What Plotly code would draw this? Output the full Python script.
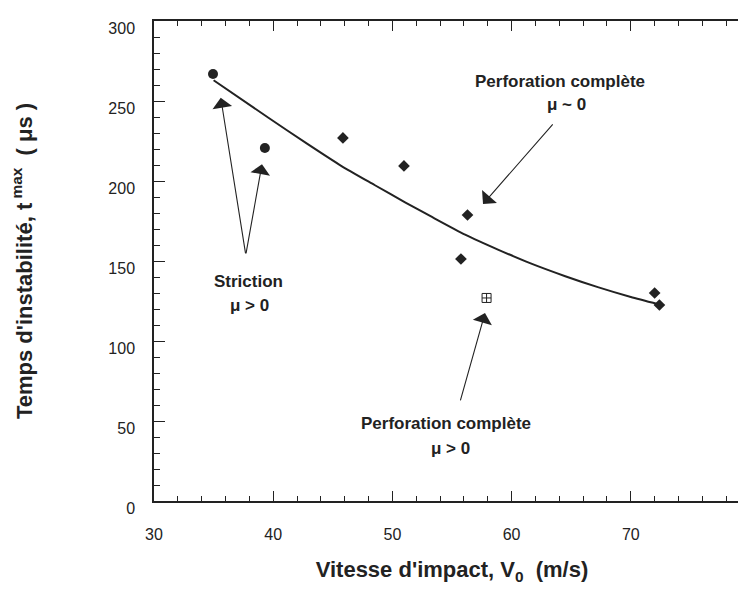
import plotly.graph_objects as go

# Data
striction_x = [34.95, 39.3]
striction_y = [266.9, 220.6]

perfo0_x = [45.85, 50.97, 56.3, 55.75, 72.0, 72.4]
perfo0_y = [226.9, 209.4, 178.75, 151.25, 130.0, 122.5]

perfo_pos_x = [57.9]
perfo_pos_y = [126.9]

curve_x = [35.0, 39.6, 42.9, 45.7, 48.5, 51.1, 53.2, 56.1, 58.9, 61.6, 64.5, 67.3, 70.0, 72.3]
curve_y = [263, 239.5, 223, 209.5, 197.5, 186.5, 178, 166.5, 157, 148.5, 140.5, 133.5, 127.5, 123]

x_ticks = [30, 40, 50, 60, 70, 80]
y_ticks = [0, 50, 100, 150, 200, 250, 300]

FONT = "Liberation Sans"
INK = "#222"

fig = go.Figure()
fig.add_trace(go.Scatter(x=curve_x, y=curve_y, mode="lines",
                         line=dict(color=INK, width=2, shape="spline", smoothing=0.6),
                         showlegend=False, hoverinfo="skip"))
fig.add_trace(go.Scatter(x=striction_x, y=striction_y, mode="markers",
                         marker=dict(symbol="circle", size=10, color=INK),
                         showlegend=False))
fig.add_trace(go.Scatter(x=perfo0_x, y=perfo0_y, mode="markers",
                         marker=dict(symbol="diamond", size=9, color=INK),
                         showlegend=False))
fig.add_trace(go.Scatter(x=perfo_pos_x, y=perfo_pos_y, mode="markers",
                         marker=dict(symbol="square-cross-open", size=9, color=INK,
                                     line=dict(width=1, color=INK)),
                         showlegend=False))

# Arrows (tip, tail) in data coordinates
arrows = [
    ((35.6, 252.0), (37.7, 153.8)),
    ((39.06, 210.5), (37.7, 153.8)),
    ((57.6, 185.6), (63.56, 236.3)),
    ((57.77, 117.5), (55.67, 61.9)),
]
for (tx, ty), (ax, ay) in arrows:
    fig.add_annotation(x=tx, y=ty, ax=ax, ay=ay, xref="x", yref="y",
                       axref="x", ayref="y", showarrow=True, text="",
                       arrowhead=1, arrowsize=3, arrowwidth=1.1,
                       arrowcolor=INK)

labels = [
    (64.1, 262.5, "Perforation complète"),
    (64.6, 248.0, "μ ~ 0"),
    (37.9, 136.9, "Striction"),
    (37.97, 121.9, "μ > 0"),
    (54.5, 48.75, "Perforation complète"),
    (54.9, 33.1, "μ > 0"),
]
for lx, ly, t in labels:
    fig.add_annotation(x=lx, y=ly, xref="x", yref="y", text=t, showarrow=False,
                       font=dict(family=FONT, size=17, color=INK, weight="bold"))

fig.update_layout(
    width=746, height=589,
    margin=dict(l=146, r=4, t=13, b=96),
    plot_bgcolor="white", paper_bgcolor="white",
    font=dict(family=FONT, color=INK),
)
fig.update_xaxes(
    range=[30, 80], tickvals=x_ticks, ticktext=[str(v) for v in x_ticks],
    ticks="inside", ticklen=10, tickwidth=1.2, tickcolor=INK,
    minor=dict(dtick=2, ticks="inside", ticklen=5, tickwidth=1, tickcolor=INK),
    showline=True, linecolor=INK, linewidth=1.5, mirror="ticks",
    showgrid=False, zeroline=False, automargin=False,
    ticklabeloverflow="allow",
    tickfont=dict(family=FONT, size=16, color=INK),
    ticklabelstandoff=18,
    title=dict(text="Vitesse d'impact, V<sub>0</sub>  (m/s)",
               font=dict(family=FONT, size=22, color=INK, weight="bold"),
               standoff=20),
)
fig.update_yaxes(
    range=[0, 300], tickvals=y_ticks, ticktext=[str(v) for v in y_ticks],
    ticks="inside", ticklen=11, tickwidth=1.2, tickcolor=INK,
    minor=dict(dtick=10, ticks="inside", ticklen=6, tickwidth=1, tickcolor=INK),
    showline=True, linecolor=INK, linewidth=1.5, mirror="ticks",
    showgrid=False, zeroline=False, automargin=False,
    ticklabeloverflow="allow",
    tickfont=dict(family=FONT, size=16, color=INK),
    ticklabelstandoff=14, ticklabelshift=7,
    title=dict(text="Temps d'instabilité, t<sup> max</sup>  ( μs )",
               font=dict(family=FONT, size=22, color=INK, weight="bold"),
               standoff=70),
)

fig.write_html("out.html")
